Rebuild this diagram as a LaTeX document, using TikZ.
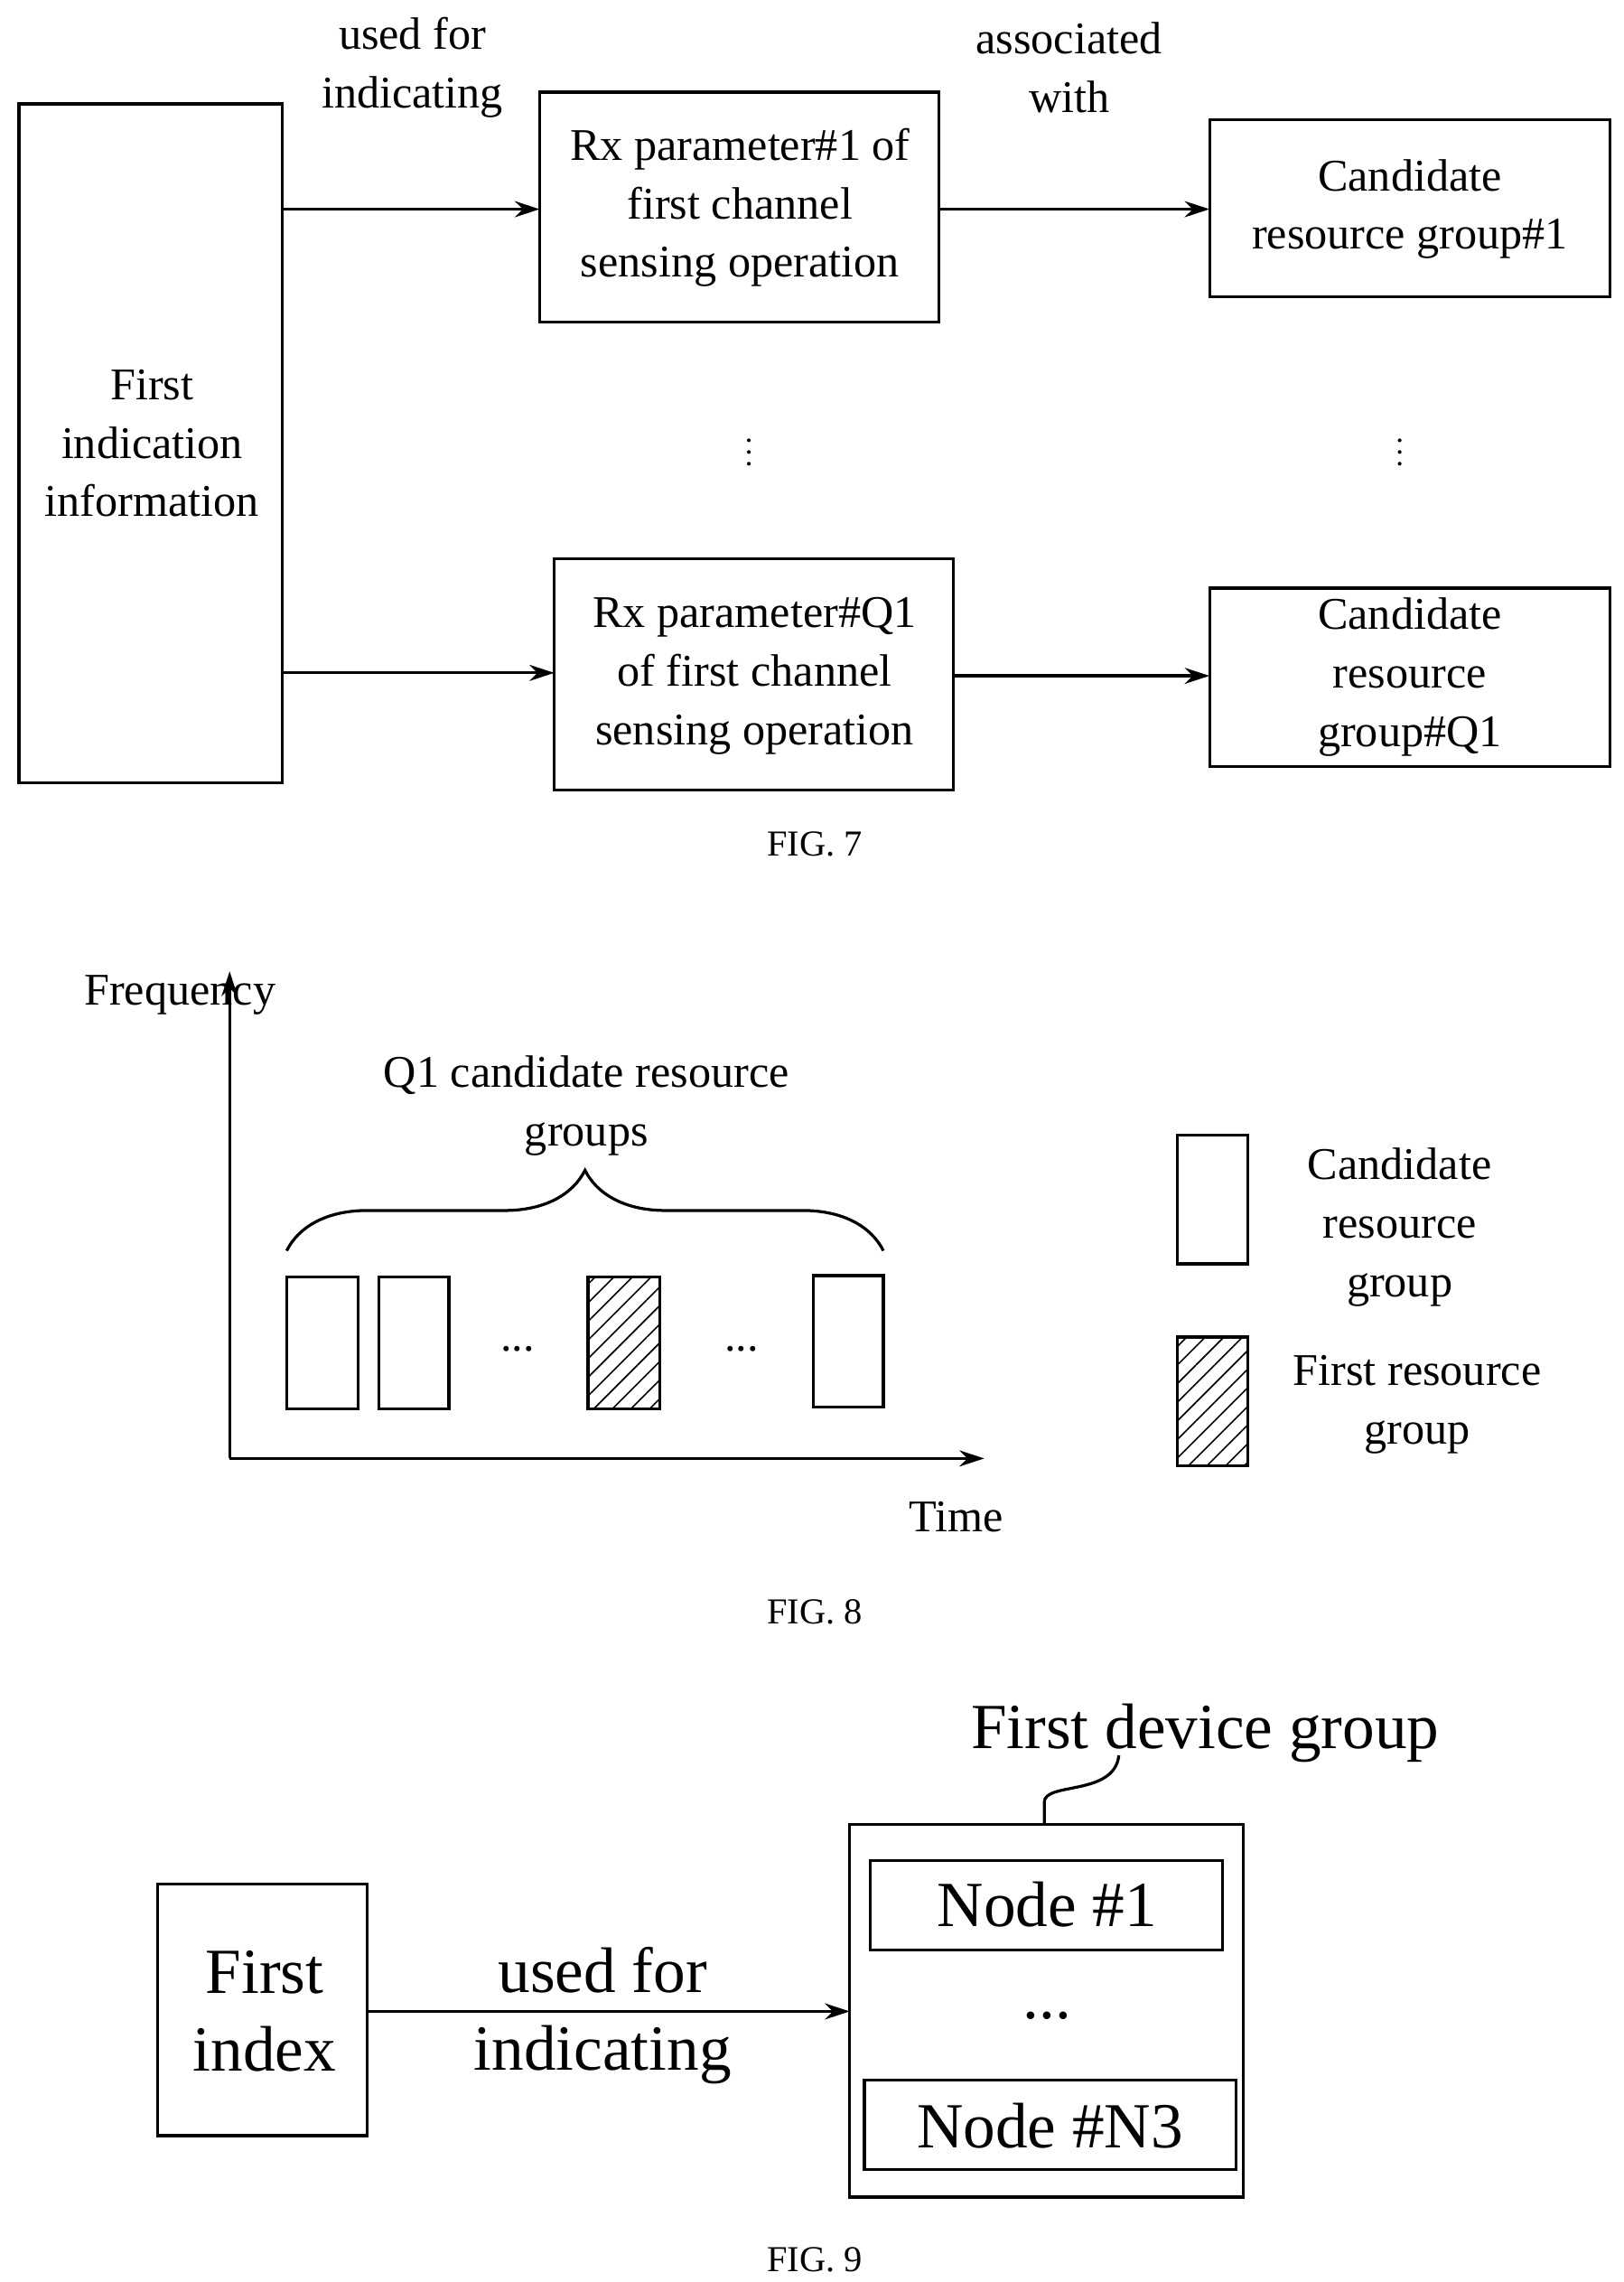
\documentclass[tikz,border=0pt]{standalone}
\usepackage{fontspec}
\setmainfont{Liberation Serif}
\usetikzlibrary{arrows.meta,decorations.pathreplacing,patterns.meta}
\begin{document}
\begin{tikzpicture}[x=1pt,y=-1pt,line width=2pt,
  t/.style={align=center,font=\fontsize{31}{40}\selectfont,inner sep=0},
  big/.style={align=center,font=\fontsize{44}{53}\selectfont,inner sep=0},
  figcap/.style={font=\fontsize{25}{30}\selectfont,inner sep=0},
  arr/.style={-{Stealth[length=17pt,width=11pt]}},
  dot/.style={circle,fill,inner sep=0,minimum size=2.6pt},
  hat/.style={pattern={Lines[angle=45,distance=9pt,line width=1pt]}}]
\useasboundingbox (0,0) rectangle (1110,1560);
% FIG 7
\draw (13,71) rectangle (193,535);
\node[t] (fi) at (104,303) {First\\indication\\information};
\draw (369,63) rectangle (642,220);
\node[t] (rx1) at (506,142) {Rx parameter\#1 of\\first channel\\sensing operation};
\draw (827,82) rectangle (1101,203);
\node[t] (c1) at (964,143) {Candidate\\resource group\#1};
\draw (379,382) rectangle (652,540);
\node[t] (rxq) at (516,462) {Rx parameter\#Q1\\of first channel\\sensing operation};
\draw (827,402) rectangle (1101,524);
\node[t] (cq) at (964,463) {Candidate\\resource\\group\#Q1};
\coordinate (a1) at (193,143); \coordinate (b1) at (369,143);
\coordinate (a2) at (642,143); \coordinate (b2) at (827,143);
\coordinate (a3) at (193,460); \coordinate (b3) at (379,460);
\coordinate (a4) at (652,462); \coordinate (b4) at (827,462);
\draw[arr] (a1) -- (b1); \draw[arr] (a2) -- (b2);
\draw[arr] (a3) -- (b3); \draw[arr] (a4) -- (b4);
\node[t] (l1) at (282,46) {used for\\indicating};
\node[t] (l2) at (731,46) {associated\\with};
\foreach \y in {301,309,317} {\node[dot] at (512,\y) {}; \node[dot] at (957,\y) {};}
\node[figcap] (f7) at (557,577) {FIG. 7};
% FIG 8
\coordinate (o) at (157,997); \coordinate (yt) at (157,664); \coordinate (xt) at (673,997);
\draw[arr] (o) -- (yt); \draw[arr] (o) -- (xt);
\node[t] (fr) at (123,680) {Frequency};
\node[t] (tm) at (654,1037) {Time};
\node[t] (q1) at (401,756) {Q1 candidate resource\\groups};
\draw[decorate,decoration={brace,amplitude=55pt}] (196,855) -- (604,855);
\draw (196,873) rectangle (245,963);
\draw (259,873) rectangle (307,963);
\node[t] at (354,922) {...};
\draw[hat] (402,873) rectangle (451,963);
\node[t] at (507,922) {...};
\draw (556,872) rectangle (604,962);
\draw (805,776) rectangle (853,864);
\node[t] (lg1) at (957,839) {Candidate\\resource\\group};
\draw[hat] (805,914) rectangle (853,1002);
\node[t] (lg2) at (969,960) {First resource\\group};
\node[figcap] (f8) at (557,1102) {FIG. 8};
% FIG 9
\node[big] (fdg) at (824,1185) {First device group};
\draw (714,1247) -- (714,1232) .. controls (714,1218) and (762,1228) .. (765,1200);
\draw (581,1247) rectangle (850,1502);
\draw (595,1272) rectangle (836,1333);
\node[big] (n1) at (716,1302) {Node \#1};
\node[big] (nd) at (716,1378) {...};
\draw (591,1422) rectangle (845,1483);
\node[big] (nn) at (718,1453) {Node \#N3};
\draw (108,1288) rectangle (251,1460);
\node[big] (fx) at (181,1375) {First\\index};
\coordinate (a5) at (251,1375); \coordinate (b5) at (581,1375);
\draw[arr] (a5) -- (b5);
\node[big] (l3) at (412,1378) {used for\\indicating};
\node[figcap] (f9) at (557,1545) {FIG. 9};
\end{tikzpicture}
\end{document}
